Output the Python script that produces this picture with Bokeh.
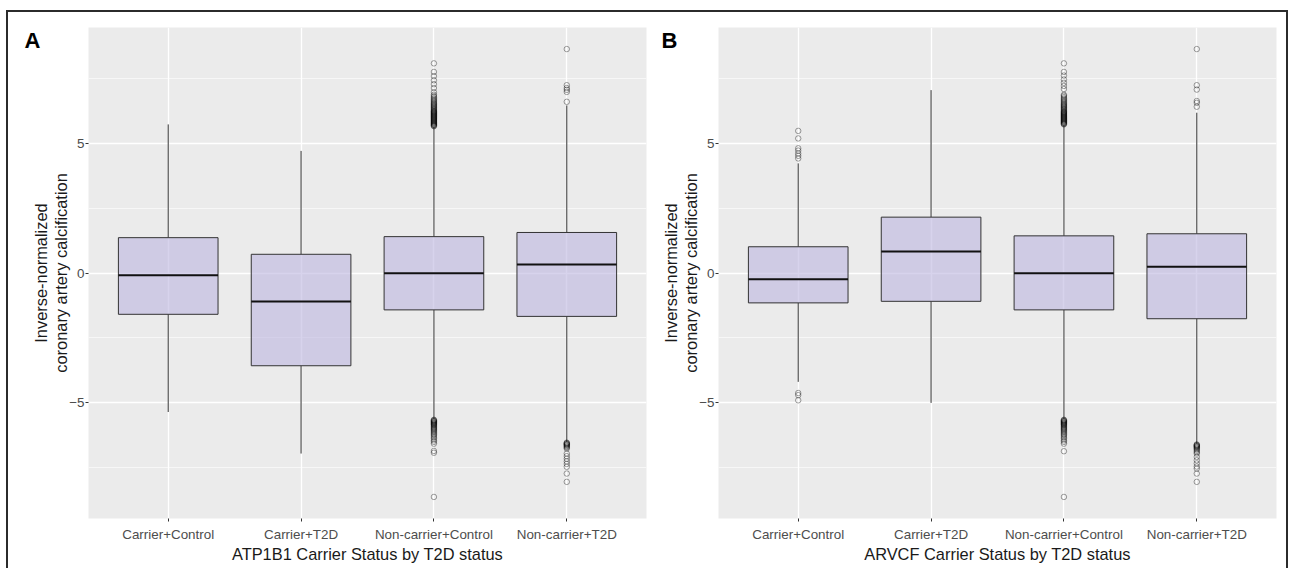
from bokeh.plotting import figure
from bokeh.models import ColumnDataSource, Range1d, FactorRange, FixedTicker, LinearAxis
from bokeh.layouts import row
from bokeh.transform import dodge
from bokeh.embed import file_html
from bokeh.resources import INLINE

cats = ["Carrier+Control", "Carrier+T2D", "Non-carrier+Control", "Non-carrier+T2D"]
y_title = "Inverse-normalized\ncoronary artery calcification"
x_title_a = "ATP1B1 Carrier Status by T2D status"
x_title_b = "ARVCF Carrier Status by T2D status"
y_ticks = [-5, 0, 5]
y_minor = [-7.5, -2.5, 2.5, 7.5]

# Panel A (ATP1B1)
a_q1 = [-1.59, -3.57, -1.42, -1.67]
a_med = [-0.09, -1.10, -0.01, 0.33]
a_q3 = [1.36, 0.72, 1.40, 1.56]
a_lo = [-5.35, -6.95, -5.62, -6.50]
a_hi = [5.72, 4.70, 5.62, 6.45]
a_out_nc_ctrl = [5.65, 5.67, 5.69, 5.71, 5.73, 5.75, 5.77, 5.79, 5.81, 5.83, 5.85, 5.87,
                 5.89, 5.91, 5.93, 5.95, 5.97, 5.99, 6.01, 6.03, 6.05, 6.07, 6.09, 6.11,
                 6.13, 6.15, 6.17, 6.19, 6.21, 6.23, 6.25, 6.28, 6.31, 6.34, 6.37, 6.40,
                 6.43, 6.46, 6.49, 6.52, 6.55, 6.59, 6.63, 6.67, 6.71, 6.76, 6.81, 6.86,
                 6.96, 7.12, 7.27, 7.42, 7.58, 7.74, 8.07,
                 -5.65, -5.67, -5.69, -5.71, -5.73, -5.75, -5.77, -5.79, -5.81, -5.83,
                 -5.85, -5.88, -5.91, -5.94, -5.97, -6.00, -6.03, -6.06, -6.10, -6.14,
                 -6.18, -6.22, -6.27, -6.32, -6.38, -6.44, -6.50, -6.57, -6.85, -6.92,
                 -8.62]
a_out_nc_t2d = [6.59, 6.97, 7.05, 7.12, 7.23, 8.62,
                -6.53, -6.55, -6.57, -6.59, -6.61, -6.63, -6.66, -6.69, -6.72, -6.76,
                -6.95, -7.05, -7.15, -7.25, -7.35, -7.46, -7.72, -8.04]

# Panel B (ARVCF)
b_q1 = [-1.15, -1.09, -1.42, -1.76]
b_med = [-0.24, 0.83, -0.01, 0.24]
b_q3 = [1.01, 2.15, 1.43, 1.51]
b_lo = [-4.19, -5.00, -5.62, -6.57]
b_hi = [4.22, 7.04, 5.69, 6.17]
b_out_c_ctrl = [4.41, 4.51, 4.60, 4.71, 4.80, 5.18, 5.47, -4.62, -4.70, -4.90]
b_out_nc_ctrl = [5.72, 5.74, 5.76, 5.78, 5.80, 5.82, 5.84, 5.86, 5.88, 5.90, 5.92, 5.94,
                 5.96, 5.98, 6.00, 6.02, 6.04, 6.06, 6.08, 6.10, 6.12, 6.14, 6.16, 6.18,
                 6.20, 6.22, 6.25, 6.28, 6.31, 6.34, 6.37, 6.40, 6.43, 6.46, 6.49, 6.52,
                 6.56, 6.60, 6.64, 6.68, 6.72, 6.77, 6.82, 6.86, 7.08, 7.20, 7.32, 7.45,
                 7.60, 7.74, 8.07,
                 -5.65, -5.67, -5.69, -5.71, -5.73, -5.75, -5.77, -5.79, -5.81, -5.83,
                 -5.85, -5.88, -5.91, -5.94, -5.97, -6.00, -6.03, -6.06, -6.10, -6.14,
                 -6.18, -6.22, -6.27, -6.32, -6.38, -6.44, -6.50, -6.57, -6.86, -8.62]
b_out_nc_t2d = [6.40, 6.55, 6.62, 7.06, 7.23, 8.62,
                -6.60, -6.62, -6.64, -6.66, -6.68, -6.70, -6.73, -6.76, -6.80, -6.85,
                -6.90, -6.95, -7.08, -7.21, -7.33, -7.45, -7.53, -7.72, -8.04]

FONT = "Liberation Sans"
BOX_FILL = "#BEB8E0"
EDGE = "#333333"
LETTER_Y = 8.95


def panel(letter, letter_standoff, x_title, q1, med, q3, lo, hi, outliers, border_left, border_right):
    p = figure(
        x_range=FactorRange(*cats, range_padding=0.05),
        y_range=Range1d(-9.45, 9.45),
        frame_width=558, frame_height=491,
        min_border_left=border_left, min_border_right=border_right,
        min_border_top=15, min_border_bottom=50,
        output_backend="svg", toolbar_location=None,
        background_fill_color="#EBEBEB", border_fill_color=None,
    )
    p.outline_line_color = None

    ticker = FixedTicker(ticks=y_ticks, minor_ticks=y_minor)
    p.yaxis.ticker = ticker
    p.ygrid.ticker = ticker
    p.xgrid.grid_line_color = "white"
    p.xgrid.grid_line_width = 1.3
    p.ygrid.grid_line_color = "white"
    p.ygrid.grid_line_width = 1.3
    p.ygrid.minor_grid_line_color = "white"
    p.ygrid.minor_grid_line_width = 0.6

    for ax in (p.xaxis[0], p.yaxis[0]):
        ax.axis_line_color = None
        ax.major_tick_line_color = EDGE
        ax.major_tick_out = 3
        ax.major_tick_in = 0
        ax.minor_tick_line_color = None
        ax.major_label_text_font = FONT
        ax.major_label_text_font_size = "13.4px"
        ax.major_label_text_color = "#4D4D4D"
        ax.axis_label_text_font = FONT
        ax.axis_label_text_font_size = "16.4px"
        ax.axis_label_text_font_style = "normal"
        ax.axis_label_text_color = "#1A1A1A"
        ax.axis_label_text_line_height = 1.1
    p.xaxis.major_label_standoff = 5
    p.xaxis.axis_label_standoff = 0
    p.yaxis.major_label_standoff = 0
    p.yaxis.axis_label_standoff = -4
    p.xaxis.axis_label = x_title
    p.yaxis.axis_label = y_title

    # panel letter, drawn as the single label of an outer, line-less axis
    letter_axis = LinearAxis(
        ticker=FixedTicker(ticks=[LETTER_Y]),
        major_label_overrides={LETTER_Y: letter},
        axis_line_color=None, major_tick_line_color=None, minor_tick_line_color=None,
        major_tick_out=0, major_tick_in=0, major_label_standoff=letter_standoff,
        major_label_text_font=FONT, major_label_text_font_style="bold",
        major_label_text_font_size="22px", major_label_text_color="black",
    )
    p.add_layout(letter_axis, "left")

    src = ColumnDataSource(dict(cat=cats, q1=q1, med=med, q3=q3, lo=lo, hi=hi))
    p.segment(x0="cat", x1="cat", y0="q3", y1="hi", source=src, line_color=EDGE, line_width=1)
    p.segment(x0="cat", x1="cat", y0="lo", y1="q1", source=src, line_color=EDGE, line_width=1)
    p.vbar(x="cat", bottom="q1", top="q3", width=0.75, source=src,
           fill_color=BOX_FILL, fill_alpha=0.62, line_color=EDGE, line_width=1)
    p.segment(x0=dodge("cat", -0.375, range=p.x_range), x1=dodge("cat", 0.375, range=p.x_range),
              y0="med", y1="med", source=src, line_color="#111111", line_width=2)

    oc, ov = [], []
    for c, vals in outliers:
        oc += [c] * len(vals)
        ov += vals
    osrc = ColumnDataSource(dict(cat=oc, val=ov))
    p.scatter(x="cat", y="val", source=osrc, marker="circle", size=5.5,
              fill_color=None, line_color="black", line_alpha=0.36, line_width=1)
    return p


pa = panel("A", -11, x_title_a, a_q1, a_med, a_q3, a_lo, a_hi,
           [(cats[2], a_out_nc_ctrl), (cats[3], a_out_nc_t2d)], 80, 9)
pb = panel("B", -18, x_title_b, b_q1, b_med, b_q3, b_lo, b_hi,
           [(cats[0], b_out_c_ctrl), (cats[2], b_out_nc_ctrl), (cats[3], b_out_nc_t2d)], 63, 10)

layout = row(pa, pb, margin=(10, 0, 0, 6),
             styles={"border-top": "2px solid #2b2b2b",
                     "border-left": "2px solid #2b2b2b",
                     "border-right": "2px solid #2b2b2b"})

open("out.html", "w").write(file_html(layout, INLINE))
